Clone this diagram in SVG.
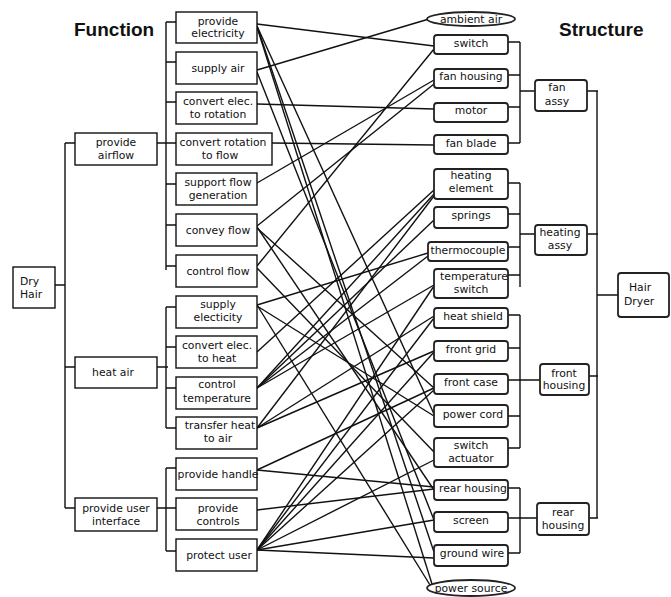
<svg xmlns="http://www.w3.org/2000/svg" width="671" height="597" viewBox="0 0 671 597">
<style>
.bx{fill:#fff;stroke:#111;stroke-width:1.4}
.sb{fill:#fff;stroke:#222;stroke-width:1.8}
.t{font-family:"DejaVu Sans","Liberation Sans",sans-serif;font-size:10.8px;fill:#111;text-anchor:middle}
.tl{text-anchor:start}
.h{font-family:"Liberation Sans",Arial,sans-serif;font-size:19px;font-weight:bold;fill:#111}
.ln{stroke:#111;stroke-width:1.4;fill:none}
.tr{stroke:#111;stroke-width:1.4;fill:none}
</style>
<rect width="671" height="597" fill="#fff"/>
<text class="h" x="74" y="36">Function</text>
<text class="h" x="559" y="36">Structure</text>

<g id="tree">
<path class="tr" d="M55,285H65M65,143V508M65,143H75M65,367H75M65,508H75"/>
<path class="tr" d="M157,143H176M166,22V270M166,22H176M166,62H176M166,102H176M166,184H176M166,225H176M166,266H176"/>
<path class="tr" d="M157,367H168M166,307V428M166,307H176M166,347H176M166,388H176M166,428H176"/>
<path class="tr" d="M157,508H176M166,468V551M166,468H176M166,551H176"/>
<path class="tr" d="M508,42H520M508,75H520M508,107H520M508,143H520M520,42V143M520,91H535M587,91H598"/>
<path class="tr" d="M508,183H520M508,214H520M508,247H520M508,275H520M520,183V287M520,234H535M587,234H598"/>
<path class="tr" d="M508,315H520M508,348H520M508,380H520M508,416H520M508,448H520M520,315V448M520,380H540M589,376H598"/>
<path class="tr" d="M508,488H520M508,518H520M508,553H520M520,488V553M520,518H537M589,518H598"/>
<path class="tr" d="M597,91V518M597,295H618"/>
</g>

<g id="connectors">
<path class="ln" d="M257,24L434,46"/>
<path class="ln" d="M257,26L434,414"/>
<path class="ln" d="M257,27L432,584"/>
<path class="ln" d="M257,26L434,552"/>
<path class="ln" d="M257,70L429,19"/>
<path class="ln" d="M257,72L434,520"/>
<path class="ln" d="M257,104L434,109"/>
<path class="ln" d="M272,143L434,145"/>
<path class="ln" d="M257,183L434,80"/>
<path class="ln" d="M257,226L434,84"/>
<path class="ln" d="M257,227L434,490"/>
<path class="ln" d="M257,228L434,388"/>
<path class="ln" d="M257,266L434,49"/>
<path class="ln" d="M257,268L434,452"/>
<path class="ln" d="M257,305L428,253"/>
<path class="ln" d="M257,305L430,585"/>
<path class="ln" d="M257,306L434,416"/>
<path class="ln" d="M257,352L434,190"/>
<path class="ln" d="M257,388L434,194"/>
<path class="ln" d="M257,388L434,220"/>
<path class="ln" d="M257,388L428,256"/>
<path class="ln" d="M257,388L434,285"/>
<path class="ln" d="M257,428L434,196"/>
<path class="ln" d="M257,428L434,316"/>
<path class="ln" d="M257,428L434,351"/>
<path class="ln" d="M257,470L434,487"/>
<path class="ln" d="M257,470L434,388"/>
<path class="ln" d="M257,510L434,489"/>
<path class="ln" d="M257,550L434,558"/>
<path class="ln" d="M257,550L434,520"/>
<path class="ln" d="M257,550L434,460"/>
<path class="ln" d="M257,550L434,390"/>
<path class="ln" d="M257,550L434,352"/>
<path class="ln" d="M257,550L434,318"/>
<path class="ln" d="M257,550L434,286"/>
</g>

<g id="n_dryhair"><rect class="bx" x="13" y="267" width="42" height="41"/><text class="t tl" x="20" y="285">Dry</text><text class="t tl" x="20" y="298">Hair</text></g>
<g id="n_airflow"><rect class="bx" x="75" y="133" width="82" height="32"/><text class="t" x="116" y="146">provide</text><text class="t" x="116" y="159">airflow</text></g>
<g id="n_heatair"><rect class="bx" x="75" y="357" width="82" height="31"/><text class="t" x="113" y="376">heat air</text></g>
<g id="n_ui"><rect class="bx" x="75" y="498" width="82" height="33"/><text class="t" x="116" y="512">provide user</text><text class="t" x="116" y="525">interface</text></g>

<g id="f_pe"><rect class="bx" x="176" y="12" width="81" height="31"/><text class="t" x="218" y="25">provide</text><text class="t" x="218" y="37">electricity</text></g>
<g id="f_sa"><rect class="bx" x="176" y="52" width="81" height="32"/><text class="t" x="218" y="72">supply air</text></g>
<g id="f_cer"><rect class="bx" x="176" y="92" width="81" height="32"/><text class="t" x="218" y="105">convert elec.</text><text class="t" x="218" y="118">to rotation</text></g>
<g id="f_crf"><rect class="bx" x="176" y="133" width="96" height="32"/><text class="t" x="223" y="146">convert rotation</text><text class="t" x="220" y="159">to flow</text></g>
<g id="f_sfg"><rect class="bx" x="176" y="173" width="81" height="32"/><text class="t" x="218" y="186">support  flow</text><text class="t" x="218" y="199">generation</text></g>
<g id="f_cf"><rect class="bx" x="176" y="214" width="81" height="32"/><text class="t" x="218" y="234">convey flow</text></g>
<g id="f_ctf"><rect class="bx" x="176" y="255" width="81" height="32"/><text class="t" x="218" y="275">control flow</text></g>
<g id="f_se"><rect class="bx" x="176" y="296" width="81" height="32"/><text class="t" x="218" y="308">supply</text><text class="t" x="218" y="321">electicity</text></g>
<g id="f_ceh"><rect class="bx" x="176" y="336" width="81" height="32"/><text class="t" x="217" y="349">convert elec.</text><text class="t" x="217" y="362">to heat</text></g>
<g id="f_ct"><rect class="bx" x="176" y="377" width="81" height="32"/><text class="t" x="217" y="388">control</text><text class="t" x="217" y="402">temperature</text></g>
<g id="f_th"><rect class="bx" x="176" y="417" width="81" height="32"/><text class="t" x="220" y="429">transfer heat</text><text class="t" x="218" y="442">to air</text></g>
<g id="f_ph"><rect class="bx" x="176" y="458" width="81" height="32"/><text class="t" x="218" y="478">provide handle</text></g>
<g id="f_pc"><rect class="bx" x="176" y="498" width="81" height="32"/><text class="t" x="218" y="512">provide</text><text class="t" x="218" y="525">controls</text></g>
<g id="f_pu"><rect class="bx" x="176" y="539" width="81" height="32"/><text class="t" x="219" y="559">protect user</text></g>

<g id="s_amb"><ellipse class="sb" cx="471" cy="19" rx="44" ry="7"/><text class="t" x="471" y="23">ambient air</text></g>
<g id="s_sw"><rect class="sb" x="434" y="35" width="74" height="19" rx="3"/><text class="t" x="471" y="47">switch</text></g>
<g id="s_fh"><rect class="sb" x="434" y="69" width="74" height="19" rx="3"/><text class="t" x="471" y="80">fan housing</text></g>
<g id="s_mo"><rect class="sb" x="434" y="103" width="74" height="19" rx="3"/><text class="t" x="471" y="114">motor</text></g>
<g id="s_fb"><rect class="sb" x="434" y="135" width="74" height="19" rx="3"/><text class="t" x="471" y="147">fan blade</text></g>
<g id="s_he"><rect class="sb" x="434" y="169" width="74" height="30" rx="3"/><text class="t" x="471" y="179">heating</text><text class="t" x="471" y="192">element</text></g>
<g id="s_sp"><rect class="sb" x="434" y="207" width="74" height="21" rx="3"/><text class="t" x="471" y="219">springs</text></g>
<g id="s_tc"><rect class="sb" x="428" y="242" width="80" height="19" rx="3"/><text class="t" x="468" y="254">thermocouple</text></g>
<g id="s_ts"><rect class="sb" x="434" y="269" width="74" height="29" rx="3"/><text class="t" x="474" y="280">temperature</text><text class="t" x="471" y="293">switch</text></g>
<g id="s_hs"><rect class="sb" x="434" y="308" width="74" height="20" rx="3"/><text class="t" x="473" y="320">heat shield</text></g>
<g id="s_fg"><rect class="sb" x="434" y="341" width="74" height="20" rx="3"/><text class="t" x="471" y="353">front grid</text></g>
<g id="s_fc"><rect class="sb" x="434" y="374" width="74" height="20" rx="3"/><text class="t" x="471" y="386">front case</text></g>
<g id="s_pc"><rect class="sb" x="434" y="405" width="74" height="22" rx="3"/><text class="t" x="473" y="418">power cord</text></g>
<g id="s_sa"><rect class="sb" x="434" y="438" width="74" height="29" rx="3"/><text class="t" x="471" y="449">switch</text><text class="t" x="471" y="462">actuator</text></g>
<g id="s_rh"><rect class="sb" x="434" y="480" width="74" height="20" rx="3"/><text class="t" x="473" y="492">rear housing</text></g>
<g id="s_sc"><rect class="sb" x="434" y="512" width="74" height="20" rx="3"/><text class="t" x="471" y="524">screen</text></g>
<g id="s_gw"><rect class="sb" x="434" y="545" width="74" height="21" rx="3"/><text class="t" x="472" y="557">ground wire</text></g>
<g id="s_ps"><ellipse class="sb" cx="471" cy="588" rx="44" ry="8"/><text class="t" x="471" y="592">power source</text></g>

<g id="a_fan"><rect class="sb" x="535" y="80" width="52" height="31" rx="3"/><text class="t" x="557" y="91">fan</text><text class="t" x="557" y="105">assy</text></g>
<g id="a_heat"><rect class="sb" x="535" y="225" width="52" height="30" rx="3"/><text class="t" x="560" y="236">heating</text><text class="t" x="560" y="249">assy</text></g>
<g id="a_front"><rect class="sb" x="540" y="364" width="49" height="31" rx="3"/><text class="t" x="564" y="377">front</text><text class="t" x="564" y="389">housing</text></g>
<g id="a_rear"><rect class="sb" x="537" y="503" width="52" height="32" rx="3"/><text class="t" x="563" y="516">rear</text><text class="t" x="563" y="529">housing</text></g>
<g id="n_hd"><rect class="sb" x="618" y="273" width="51" height="44" rx="3"/><text class="t tl" x="629" y="291">Hair</text><text class="t tl" x="624" y="305">Dryer</text></g>
</svg>
